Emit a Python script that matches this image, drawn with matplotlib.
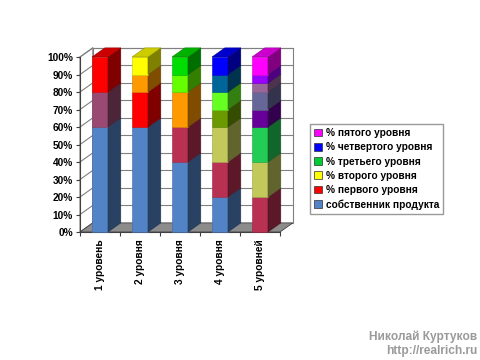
import matplotlib
matplotlib.use("Agg")
import matplotlib.pyplot as plt
from matplotlib.patches import Polygon, Patch
import matplotlib.colors as mcolors
import numpy as np

plt.rcParams['font.family'] = ['Liberation Sans', 'DejaVu Sans']

# ---- data ----
categories = ['1 уровень', '2 уровня', '3 уровня', '4 уровня', '5 уровней']
# stacked segments for each bar (percent), bottom to top
seg_1 = [60, 20, 20]
seg_2 = [60, 20, 10, 10]
seg_3 = [40, 20, 20, 10, 10]
seg_4 = [20, 20, 20, 10, 10, 10, 10]
seg_5 = [20, 20, 20, 10, 10, 5, 5, 10]
segments = [seg_1, seg_2, seg_3, seg_4, seg_5]

legend_labels = ['% пятого уровня', '% четвертого уровня', '% третьего уровня',
                 '% второго уровня', '% первого уровня', 'собственник продукта']
yticks = list(range(0, 101, 10))

# ---- styles ----
seg_colors = [
    ['#5283c6', '#9a4a72', '#ff0000'],
    ['#5283c6', '#ff0000', '#ff9900', '#ffff00'],
    ['#5283c6', '#b83052', '#ff9900', '#66ff00', '#00dd00'],
    ['#5283c6', '#b83052', '#c2c85a', '#6a9a00', '#66ff22', '#006699', '#0000ff'],
    ['#b83052', '#c2c85a', '#22cc55', '#660099', '#666699', '#996699', '#9900ff', '#ff00ff'],
]
legend_colors = ['#ff00ff', '#0000ff', '#00cc33', '#ffff00', '#ff0000', '#5283c6']

def shade(c, f):
    r, g, b = mcolors.to_rgb(c)
    return (r * f, g * f, b * f)

fig = plt.figure(figsize=(4.8, 3.6), dpi=100)
fig.patch.set_facecolor('white')
ax = fig.add_axes([80 / 480, 1 - 232 / 360, 200 / 480, 175 / 360])
ax.set_xlim(0, 5)
ax.set_ylim(0, 100)
ax.set_facecolor('none')
for s in ax.spines.values():
    s.set_visible(False)

DX = 0.32   # depth offset in category units
DY = 5.2    # depth offset in percent units
N = len(categories)
grid_c = '#808080'

# back wall
ax.add_patch(Polygon([(DX, DY), (N + DX, DY), (N + DX, 100 + DY), (DX, 100 + DY)],
                     closed=True, facecolor='white', edgecolor=grid_c, lw=0.8,
                     clip_on=False, zorder=0))
# left wall
ax.add_patch(Polygon([(0, 0), (DX, DY), (DX, 100 + DY), (0, 100)],
                     closed=True, facecolor='white', edgecolor=grid_c, lw=0.8,
                     clip_on=False, zorder=0))
# gridlines
for v in yticks[1:]:
    ax.plot([DX, N + DX], [v + DY, v + DY], color=grid_c, lw=0.8, clip_on=False, zorder=1)
    ax.plot([0, DX], [v, v + DY], color=grid_c, lw=0.8, clip_on=False, zorder=1)
# floor
ax.add_patch(Polygon([(0, 0), (N, 0), (N + DX, DY), (DX, DY)], closed=True,
                     facecolor='#8c8c8c', edgecolor='#404040', lw=0.6,
                     clip_on=False, zorder=1))
# axis line
ax.plot([0, 0], [0, 100], color='#404040', lw=0.8, clip_on=False, zorder=2)
ax.plot([0, N], [0, 0], color='#404040', lw=0.8, clip_on=False, zorder=2)

# bars
bw0, bw1 = 0.3, 0.7
for i, (vals, cols) in enumerate(zip(segments, seg_colors)):
    x0, x1 = i + bw0, i + bw1
    bottom = 0
    for v, c in zip(vals, cols):
        top = bottom + v
        ax.add_patch(Polygon([(x0, bottom), (x1, bottom), (x1, top), (x0, top)], closed=True,
                             facecolor=c, edgecolor=shade(c, 0.8), lw=0.4,
                             clip_on=False, zorder=3))
        ax.add_patch(Polygon([(x1, bottom), (x1 + DX, bottom + DY), (x1 + DX, top + DY), (x1, top)],
                             closed=True, facecolor=shade(c, 0.5), edgecolor=shade(c, 0.4),
                             lw=0.4, clip_on=False, zorder=3))
        bottom = top
    ctop = cols[-1]
    ax.add_patch(Polygon([(x0, bottom), (x1, bottom), (x1 + DX, bottom + DY), (x0 + DX, bottom + DY)],
                         closed=True, facecolor=shade(ctop, 0.8), edgecolor=shade(ctop, 0.6),
                         lw=0.4, clip_on=False, zorder=3))

# ticks
ax.set_yticks(yticks)
ax.set_yticklabels([f'{v}%' for v in yticks], fontsize=7.3, fontweight='bold')
ax.tick_params(axis='y', length=3, width=0.8, color='#404040', pad=2)
ax.set_xticks([i + 0.5 for i in range(N)])
ax.set_xticklabels(categories, rotation=90, fontsize=7.3, fontweight='bold', va='top')
ax.set_xticks(range(N + 1), minor=True)
ax.tick_params(axis='x', which='major', length=0, pad=5)
ax.tick_params(axis='x', which='minor', length=3, width=0.8, color='#404040')

# legend
handles = [Patch(facecolor=c, edgecolor='#303030', lw=0.5) for c in legend_colors]
leg = fig.legend(handles, legend_labels, loc='upper left',
                 bbox_to_anchor=(310 / 480, 1 - 124 / 360), bbox_transform=fig.transFigure,
                 prop={'size': 7.3, 'weight': 'bold'}, frameon=True, fancybox=False,
                 borderaxespad=0, handlelength=0.8, handleheight=0.8, handletextpad=0.35,
                 labelspacing=0.42, borderpad=0.4)
leg.get_frame().set_edgecolor('#808080')
leg.get_frame().set_linewidth(1.0)

# watermark
fig.text(477 / 480, 1 - 337 / 360, 'Николай Куртуков', ha='right', va='center',
         fontsize=8.6, fontweight='bold', color='#9a9a9a')
fig.text(477 / 480, 1 - 351 / 360, 'http://realrich.ru', ha='right', va='center',
         fontsize=8.6, fontweight='bold', color='#9a9a9a')

fig.savefig('out.png', dpi=100)
